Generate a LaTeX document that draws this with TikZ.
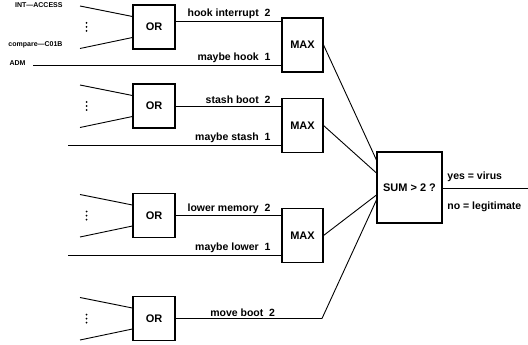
\documentclass[tikz,border=0pt]{standalone}
\usepackage{fontspec}
\setmainfont{Liberation Sans}
\usepackage{amsmath}
\usepackage{tikz}

\begin{document}
\begin{tikzpicture}[x=1pt, y=-1pt, line width=0.9pt,
    box/.style={draw, line width=1.1pt, inner sep=0pt, font=\bfseries\fontsize{11}{12}\selectfont},
    orbox/.style={box, minimum width=42pt, minimum height=44pt},
    maxbox/.style={box, minimum width=41pt, minimum height=54pt},
    lbl/.style={above left, xshift=-9pt, inner sep=1.5pt, font=\bfseries\fontsize{10.5}{12}\selectfont},
    outlbl/.style={anchor=west, inner sep=1pt, font=\bfseries\fontsize{10.5}{12}\selectfont},
    tinylbl/.style={anchor=east, inner sep=1pt, font=\bfseries\fontsize{7}{8}\selectfont}]
    \useasboundingbox (0,0) rectangle (528,345);
    % gates
    \node[orbox] (or1) at (154,27) {OR};
    \node[orbox] (or2) at (154,106) {OR};
    \node[orbox] (or3) at (154,215.5) {OR};
    \node[orbox] (or4) at (154,318.5) {OR};
    \node[maxbox] (max1) at (302.5,45) {MAX};
    \node[maxbox] (max2) at (302.5,125.5) {MAX};
    \node[maxbox] (max3) at (302.5,235.5) {MAX};
    \node[box, minimum width=65pt, minimum height=71pt] (sum) at (409.5,187.5) {SUM > 2 ?};
    % inputs of the OR gates
    \foreach \g/\y in {1/27, 2/106, 3/215.5, 4/318.5} {
        \coordinate (ina\g) at (80,\y-21);
        \coordinate (inb\g) at (80,\y+21.5);
        \draw (ina\g) -- ([yshift=10.5pt]or\g.west);
        \draw (inb\g) -- ([yshift=-10.5pt]or\g.west);
        \foreach \d in {-4,0,4} \fill (86.5,\y+\d) circle (1pt);
    }
    \node[tinylbl] (t1) at (64,5) {INT—ACCESS};
    \node[tinylbl] (t2) at (64,45) {compare—C01B};
    \node[tinylbl] (t3) at (27,63.5) {ADM};
    % straight inputs of the MAX boxes
    \coordinate (m1) at (33,65);
    \coordinate (m2) at (68,145);
    \coordinate (m3) at (68,255);
    \draw (m1) -- (m1 -| max1.west) node[lbl, pos=1] {maybe hook~~1};
    \draw (m2) -- (m2 -| max2.west) node[lbl, pos=1] {maybe stash~~1};
    \draw (m3) -- (m3 -| max3.west) node[lbl, pos=1] {maybe lower~~1};
    % OR outputs
    \draw (or1.east |- 0,21) -- (max1.west |- 0,21) node[lbl, pos=1] {hook interrupt~~2};
    \draw (or2.east) -- (or2.east -| max2.west) node[lbl, pos=1] {stash boot~~2};
    \draw (or3.east) -- (or3.east -| max3.west) node[lbl, pos=1] {lower memory~~2};
    \coordinate (mb) at (322,318.5);
    \draw (or4.east) -- (mb) node[lbl, pos=1, xshift=-36pt] {move boot~~2} -- (sum.west |- 0,200);
    % into the sum
    \draw (max1.east) -- (sum.west |- 0,160);
    \draw (max2.east) -- (sum.west |- 0,173);
    \draw (max3.east) -- (sum.west |- 0,195);
    \coordinate (out) at (528,188);
    \draw (sum.east |- out) -- (out);
    \node[outlbl] (yes) at (446,177) {yes = virus};
    \node[outlbl] (no) at (446,207) {no = legitimate};
\end{tikzpicture}
\end{document}
